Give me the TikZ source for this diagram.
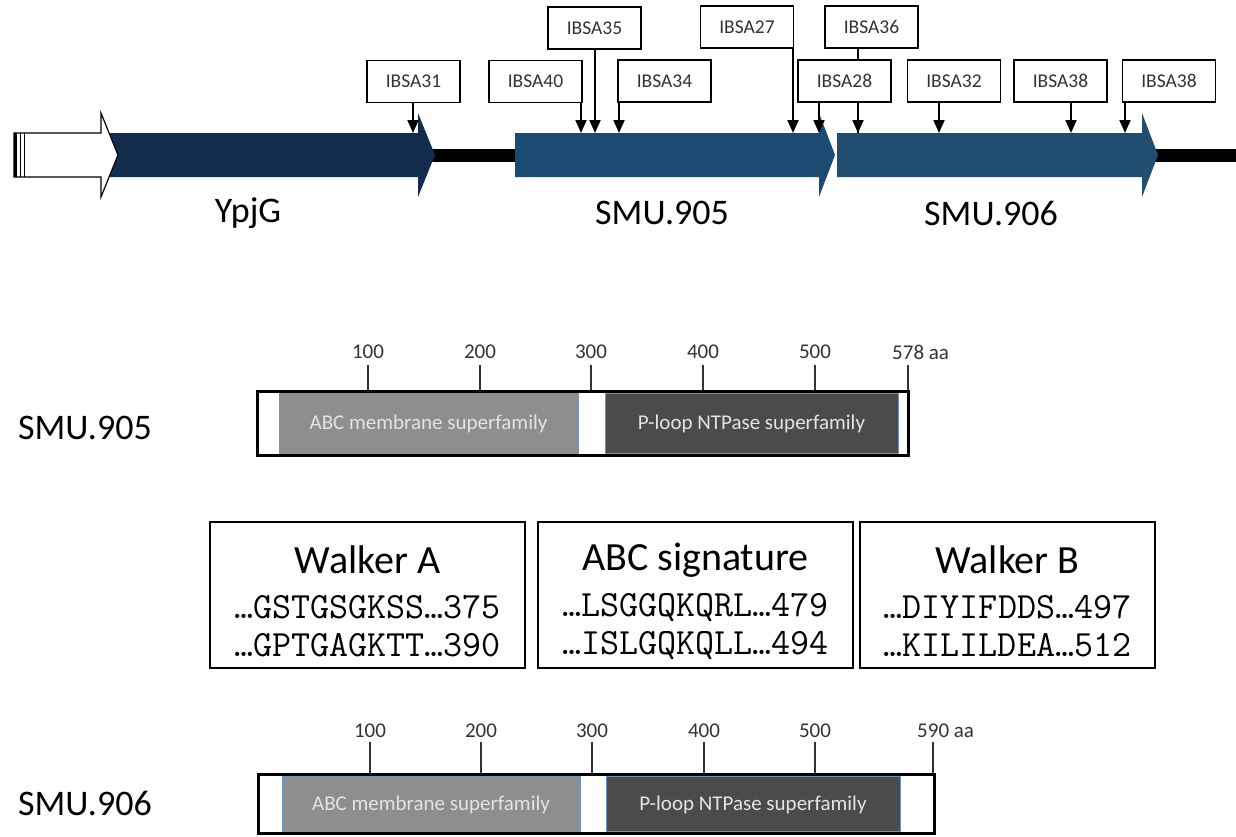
\documentclass[tikz,border=0pt]{standalone}
\usepackage{fontspec}
\setmainfont{Carlito}
\usetikzlibrary{arrows.meta}
\definecolor{navyA}{HTML}{142D4D}
\definecolor{navyB}{HTML}{1B4A72}
\definecolor{navyC}{HTML}{204D70}
\definecolor{domL}{HTML}{8E8E8E}
\definecolor{domD}{HTML}{4B4B4B}
\definecolor{domE}{HTML}{6C93C4}
\definecolor{txtG}{HTML}{333333}
\definecolor{domT}{HTML}{E4E4E4}
\begin{document}
\begin{tikzpicture}[x=1pt,y=-1pt,
  ibsa/.style={draw=black, line width=1.3pt, fill=white, minimum width=93pt, minimum height=42pt, inner sep=0pt, text=txtG, font=\fontsize{19.5}{22}\selectfont},
  pin/.style={line width=2pt, -{Triangle[length=13pt,width=11pt]}},
  genelabel/.style={font=\fontsize{36}{40}\selectfont, inner sep=0pt},
  outerbox/.style={draw=black, line width=3pt},
  domlight/.style={fill=domL, draw=domE, line width=0.8pt},
  domdark/.style={fill=domD, draw=domE, line width=0.8pt},
  domtext/.style={text=domT, font=\fontsize{21}{24}\selectfont, inner sep=0pt},
  tickline/.style={draw=txtG, line width=1.5pt},
  ticklabel/.style={text=txtG, font=\fontsize{21}{24}\selectfont, inner sep=0pt},
  motifbox/.style={draw=black, line width=1.5pt, minimum height=146pt, inner sep=0pt},
  motiftitle/.style={font=\fontsize{40}{44}\selectfont, inner sep=0pt},
  seqline/.style={font=\ttfamily\fontsize{37}{40}\selectfont, inner sep=0pt}
]
\useasboundingbox (0,0) rectangle (1236,836);

% ---------------- gene track ----------------
\draw[line width=13pt] (420,155) -- (520,155);
\draw[line width=13pt] (1150,155) -- (1236,155);
\fill[navyA] (102,133) -- (418,133) -- (418,113) -- (435,155) -- (418,197) -- (418,177) -- (102,177) -- cycle;
\fill[navyB] (515,133) -- (819,133) -- (819,113) -- (835,155) -- (819,197) -- (819,177) -- (515,177) -- cycle;
\fill[navyC] (837,133) -- (1142,133) -- (1142,113) -- (1158,155) -- (1142,197) -- (1142,177) -- (837,177) -- cycle;
\draw[line width=1.2pt, fill=white] (14,133) -- (101,133) -- (101,113) -- (118,155) -- (101,197) -- (101,177) -- (14,177) -- cycle;
\draw[line width=3pt] (15,133) -- (15,177);
\draw[line width=1pt] (20,133) -- (20,177);
\draw[line width=1pt] (24,133) -- (24,177);

\node[genelabel] (lYpjG) at (248,213) {YpjG};
\node[genelabel] (l905) at (662,213) {SMU.905};
\node[genelabel] (l906) at (991,213) {SMU.906};

% insertion sites
\coordinate (t31) at (413,133);
\coordinate (t40) at (581,133);
\coordinate (t35) at (595,133);
\coordinate (t34) at (619,133);
\coordinate (t27) at (793,133);
\coordinate (t28) at (819,133);
\coordinate (t36) at (858,133);
\coordinate (t32) at (939,133);
\coordinate (t38a) at (1071,133);
\coordinate (t38b) at (1125,133);

\node[ibsa] (b36) at (871.5,27) {IBSA36};
\draw[pin] (b36.south -| t36) -- (t36);
\node[ibsa] (b31) at (413.5,81.5) {IBSA31};
\node[ibsa] (b40) at (535.5,81.5) {IBSA40};
\node[ibsa] (b35) at (594.5,28) {IBSA35};
\node[ibsa] (b34) at (664.5,81) {IBSA34};
\node[ibsa] (b27) at (747,27) {IBSA27};
\node[ibsa] (b28) at (844.5,81) {IBSA28};
\node[ibsa] (b32) at (954,81) {IBSA32};
\node[ibsa] (b38a) at (1060.5,81) {IBSA38};
\node[ibsa] (b38b) at (1169,81) {IBSA38};

\draw[pin] (b31.south -| t31) -- (t31);
\draw[pin] (b40.south -| t40) -- (t40);
\draw[pin] (b35.south -| t35) -- (t35);
\draw[pin] (b34.south -| t34) -- (t34);
\draw[pin] (b27.south -| t27) -- (t27);
\draw[pin] (b28.south -| t28) -- (t28);
\draw[pin] (b32.south -| t32) -- (t32);
\draw[pin] (b38a.south -| t38a) -- (t38a);
\draw[pin] (b38b.south -| t38b) -- (t38b);
\draw[line width=2pt] (b28.south -| t36) -- (t36);

% ---------------- SMU.905 domains ----------------
\node[genelabel] (p905) at (85,428) {SMU.905};
\draw[domlight] (279,393) rectangle (578,453);
\draw[domdark] (605,393) rectangle (898,453);
\draw[outerbox] (257,391) rectangle (908,455);
\node[domtext] (d1a) at (428.5,424) {ABC membrane superfamily};
\node[domtext] (d1b) at (751.5,424) {P-loop NTPase superfamily};
\foreach \x/\l in {368/100,480/200,591/300,703/400,815/500}{
  \draw[tickline] (\x,365) -- (\x,390);
  \node[ticklabel] at (\x,352) {\l};
}
\draw[tickline] (908,365) -- (908,390);
\node[ticklabel, anchor=west] (e1) at (892,352) {578 aa};

% ---------------- motif boxes ----------------
\node[motifbox, minimum width=315pt] (m1) at (367.5,595) {};
\node[motifbox, minimum width=315pt] (m2) at (695.5,595) {};
\node[motifbox, minimum width=295pt] (m3) at (1007.5,595) {};
\node[motiftitle] (m1t) at (367.5,560) {Walker A};
\node[motiftitle] (m2t) at (695.5,560) {ABC signature};
\node[motiftitle] (m3t) at (1007.5,560) {Walker B};
\node[seqline] (m1a) at (367.5,607) {…GSTGSGKSS…375};
\node[seqline] (m1b) at (367.5,645) {…GPTGAGKTT…390};
\node[seqline] (m2a) at (695.5,607) {…LSGGQKQRL…479};
\node[seqline] (m2b) at (695.5,645) {…ISLGQKQLL…494};
\node[seqline] (m3a) at (1007.5,607) {…DIYIFDDS…497};
\node[seqline] (m3b) at (1007.5,645) {…KILILDEA…512};

% ---------------- SMU.906 domains ----------------
\node[genelabel] (p906) at (85,803) {SMU.906};
\draw[domlight] (282,776) rectangle (580,831);
\draw[domdark] (606,776) rectangle (900,831);
\draw[outerbox] (258,774) rectangle (934,833);
\node[domtext] (d2a) at (431,805) {ABC membrane superfamily};
\node[domtext] (d2b) at (753,805) {P-loop NTPase superfamily};
\foreach \x/\l in {370/100,481/200,592/300,704/400,815/500}{
  \draw[tickline] (\x,742) -- (\x,773);
  \node[ticklabel] at (\x,731) {\l};
}
\draw[tickline] (933,742) -- (933,773);
\node[ticklabel, anchor=west] (e2) at (917,731) {590 aa};
\end{tikzpicture}
\end{document}
